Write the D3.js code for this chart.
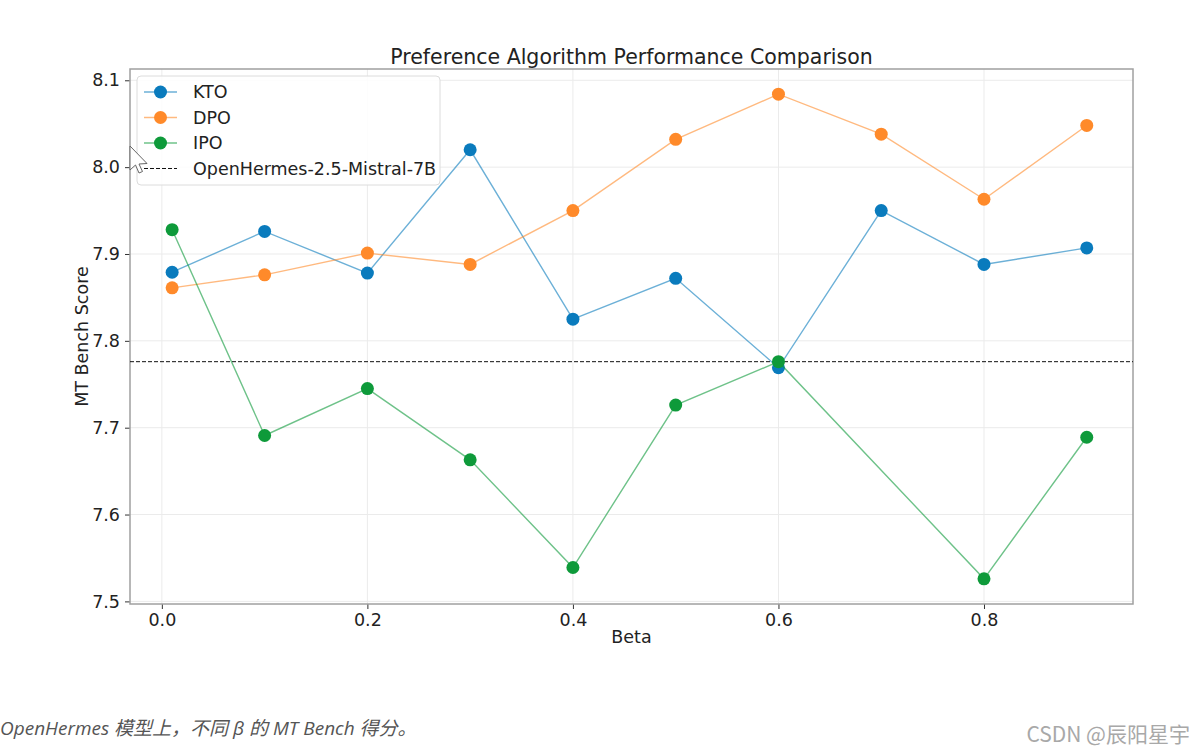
<!DOCTYPE html>
<html>
<head>
<meta charset="utf-8">
<script src="https://cdn.jsdelivr.net/npm/d3@7"></script>
<style>
  body { margin: 0; background: #fff; }
  text { font-family: "DejaVu Sans", sans-serif; }
</style>
</head>
<body>
<svg width="1198" height="753"></svg>
<script>
const svg = d3.select('svg');

// data
const betas = [0.01, 0.1, 0.2, 0.3, 0.4, 0.5, 0.6, 0.7, 0.8, 0.9];
const kto = [7.879, 7.926, 7.878, 8.020, 7.825, 7.872, 7.769, 7.950, 7.888, 7.907];
const dpo = [7.861, 7.876, 7.901, 7.888, 7.950, 8.032, 8.084, 8.038, 7.963, 8.048];
// IPO has no point at 0.7
const ipo = [7.928, 7.691, 7.745, 7.663, 7.539, 7.726, 7.776, null, 7.526, 7.689];
const baseline = 7.776;
const xTicks = [0.0, 0.2, 0.4, 0.6, 0.8];
const yTicks = [7.5, 7.6, 7.7, 7.8, 7.9, 8.0, 8.1];

const seriesNames = ['KTO', 'DPO', 'IPO'];
const seriesValues = [kto, dpo, ipo];
const colors = ['#0a7bbd', '#ff8a2a', '#0e9a3a'];

const pLeft = 130, pRight = 1133, pTop = 69, pBottom = 604;

const x = d3.scaleLinear().domain([-0.031, 0.945]).range([pLeft, pRight]);
const y = d3.scaleLinear().domain([7.497, 8.113]).range([pBottom, pTop]);

//grid
svg.append('g')
  .selectAll('line')
  .data(xTicks)
  .join('line')
  .attr('x1', d => x(d)).attr('x2', d => x(d))
  .attr('y1', pTop).attr('y2', pBottom)
  .attr('stroke', '#ebebeb').attr('stroke-width', 1);

svg.append('g')
  .selectAll('line')
  .data(yTicks)
  .join('line')
  .attr('x1', pLeft).attr('x2', pRight)
  .attr('y1', d => y(d)).attr('y2', d => y(d))
  .attr('stroke', '#ebebeb').attr('stroke-width', 1);

// axes
const xAxis = svg.append('g')
  .attr('transform', `translate(0,${pBottom})`)
  .call(d3.axisBottom(x).tickValues(xTicks).tickFormat(d3.format('.1f')).tickSize(5).tickPadding(5));
const yAxis = svg.append('g')
  .attr('transform', `translate(${pLeft},0)`)
  .call(d3.axisLeft(y).tickValues(yTicks).tickFormat(d3.format('.1f')).tickSize(5).tickPadding(5));

[xAxis, yAxis].forEach(a => {
  a.select('.domain').remove();
  a.selectAll('line').attr('stroke', '#333');
  a.selectAll('text')
    .attr('font-size', 17.5)
    .attr('fill', '#222')
    .style('font-family', '"DejaVu Sans", sans-serif');
});

// frame
svg.append('rect')
  .attr('x', pLeft).attr('y', pTop)
  .attr('width', pRight - pLeft).attr('height', pBottom - pTop)
  .attr('fill', 'none').attr('stroke', '#a0a0a0').attr('stroke-width', 1.5);

// baseline
svg.append('line')
  .attr('x1', pLeft).attr('x2', pRight)
  .attr('y1', y(baseline)).attr('y2', y(baseline))
  .attr('stroke', '#111').attr('stroke-width', 1)
  .attr('stroke-dasharray', '4,2');

// series
const line = d3.line()
  .x(d => x(d.b))
  .y(d => y(d.v));

seriesValues.forEach((vals, i) => {
  const pts = betas.map((b, j) => ({ b: b, v: vals[j] })).filter(d => d.v !== null);
  svg.append('path')
    .datum(pts)
    .attr('d', line)
    .attr('fill', 'none')
    .attr('stroke', colors[i])
    .attr('stroke-opacity', 0.6)
    .attr('stroke-width', 1.4);
  svg.append('g')
    .selectAll('circle')
    .data(pts)
    .join('circle')
    .attr('cx', d => x(d.b))
    .attr('cy', d => y(d.v))
    .attr('r', 6.5)
    .attr('fill', colors[i]);
});

// legend
const lg = svg.append('g');
lg.append('rect')
  .attr('x', 137).attr('y', 76).attr('width', 303).attr('height', 109)
  .attr('rx', 4)
  .attr('fill', 'rgba(255,255,255,0.85)')
  .attr('stroke', '#dcdcdc');

const rows = seriesNames.concat(['OpenHermes-2.5-Mistral-7B']);
rows.forEach((name, i) => {
  const yy = 92 + i * 25.5;
  if (i < 3) {
    lg.append('line')
      .attr('x1', 144).attr('x2', 177).attr('y1', yy).attr('y2', yy)
      .attr('stroke', colors[i]).attr('stroke-opacity', 0.6).attr('stroke-width', 1.4);
    lg.append('circle').attr('cx', 160.5).attr('cy', yy).attr('r', 6.5).attr('fill', colors[i]);
  } else {
    lg.append('line')
      .attr('x1', 144).attr('x2', 177).attr('y1', yy).attr('y2', yy)
      .attr('stroke', '#111').attr('stroke-width', 1).attr('stroke-dasharray', '4,2');
  }
  lg.append('text')
    .attr('x', 193).attr('y', yy + 6)
    .attr('font-size', 17.5).attr('fill', '#222')
    .text(name);
});

// mouse cursor seen in the screenshot
svg.append('path')
  .attr('d', 'M130,146 L130,170 L135.5,165 L139,173 L142.5,171.5 L139,164 L147,163.5 Z')
  .attr('fill', '#fff').attr('stroke', '#666').attr('stroke-width', 1);

// titles
svg.append('text')
  .attr('x', (pLeft + pRight) / 2).attr('y', 64)
  .attr('text-anchor', 'middle')
  .attr('font-size', 20.5).attr('fill', '#222')
  .text('Preference Algorithm Performance Comparison');

svg.append('text')
  .attr('x', (pLeft + pRight) / 2).attr('y', 643)
  .attr('text-anchor', 'middle')
  .attr('font-size', 17.5).attr('fill', '#222')
  .text('Beta');

svg.append('text')
  .attr('transform', `translate(88,${(pTop + pBottom) / 2}) rotate(-90)`)
  .attr('text-anchor', 'middle')
  .attr('font-size', 17.5).attr('fill', '#222')
  .text('MT Bench Score');

// caption and watermark
svg.append('text')
  .attr('x', 0).attr('y', 735)
  .attr('font-size', 19).attr('font-style', 'italic').attr('fill', '#555')
  .style('font-family', '"Open Sans", "Noto Sans CJK SC", sans-serif')
  .text('OpenHermes 模型上，不同 β 的 MT Bench 得分。');

svg.append('text')
  .attr('x', 1190).attr('y', 742)
  .attr('text-anchor', 'end')
  .attr('font-size', 21).attr('fill', '#a8a8a8')
  .style('font-family', '"Noto Sans CJK SC", sans-serif')
  .text('CSDN @辰阳星宇');
</script>
</body>
</html>
